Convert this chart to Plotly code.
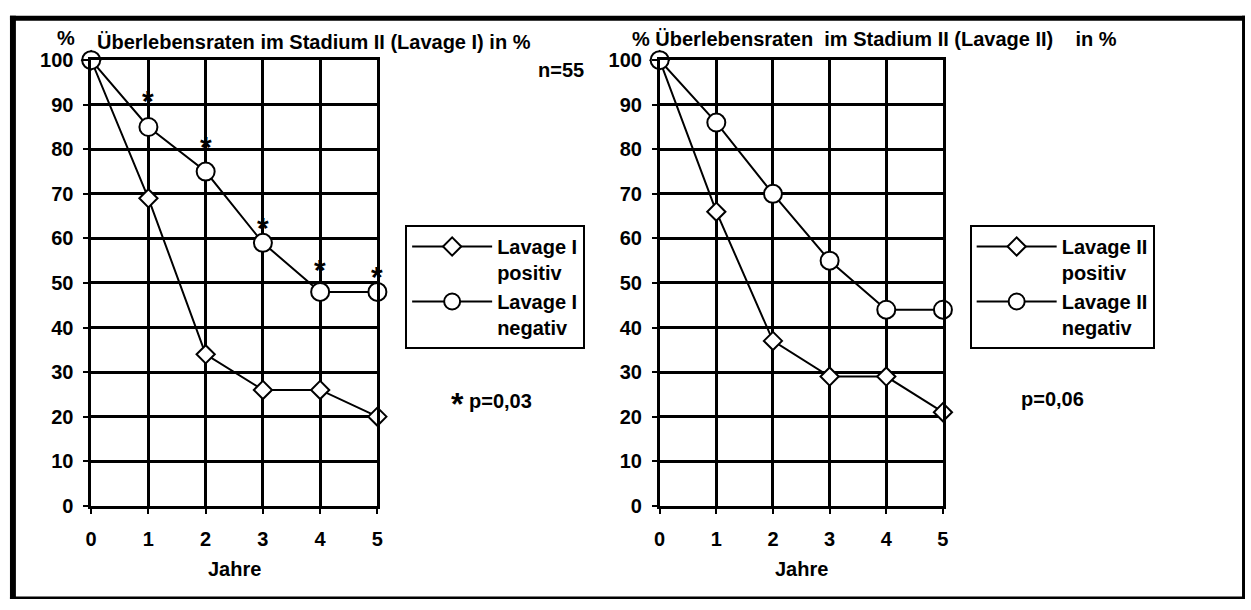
import plotly.graph_objects as go

# ---------------- data ----------------
years = [0, 1, 2, 3, 4, 5]
lavage1_positiv = [100, 69, 34, 26, 26, 20]
lavage1_negativ = [100, 85, 75, 59, 48, 48]
lavage2_positiv = [100, 66, 37, 29, 29, 21]
lavage2_negativ = [100, 86, 70, 55, 44, 44]
star_years = [1, 2, 3, 4, 5]
star_levels = [91.5, 81, 63, 53.5, 52]
y_ticks = [0, 10, 20, 30, 40, 50, 60, 70, 80, 90, 100]

NB = "\u00a0"
title_left = "Überlebensraten im Stadium II (Lavage I) in %"
title_right = "% Überlebensraten" + NB * 2 + "im Stadium II (Lavage II)" + NB * 4 + "in %"

# ---------------- layout helpers ----------------
W, H = 1251, 610
def px(x):
    return x / W
def py(y):
    return 1 - y / H

FONT = "Liberation Sans, Arial, sans-serif"
def font(size=20):
    return dict(family=FONT, size=size, color="black", weight="bold")

line_style = dict(color="black", width=2)
diamond = dict(symbol="diamond", size=14, color="white", line=dict(color="black", width=2))
circle = dict(symbol="circle", size=18, color="white", line=dict(color="black", width=2))

fig = go.Figure()
fig.add_trace(go.Scatter(x=years, y=lavage1_positiv, name="Lavage I<br>positiv",
                         mode="lines+markers", line=line_style, marker=diamond,
                         xaxis="x", yaxis="y", legend="legend", cliponaxis=False))
fig.add_trace(go.Scatter(x=years, y=lavage1_negativ, name="Lavage I<br>negativ",
                         mode="lines+markers", line=line_style, marker=circle,
                         xaxis="x", yaxis="y", legend="legend", cliponaxis=False))
fig.add_trace(go.Scatter(x=years, y=lavage2_positiv, name="Lavage II<br>positiv",
                         mode="lines+markers", line=line_style, marker=diamond,
                         xaxis="x2", yaxis="y2", legend="legend2", cliponaxis=False))
fig.add_trace(go.Scatter(x=years, y=lavage2_negativ, name="Lavage II<br>negativ",
                         mode="lines+markers", line=line_style, marker=circle,
                         xaxis="x2", yaxis="y2", legend="legend2", cliponaxis=False))

axis_common = dict(showgrid=True, gridcolor="black", gridwidth=2.5,
                   showline=True, linecolor="black", linewidth=2.5, mirror=True,
                   zeroline=False, ticks="outside", ticklen=5, tickwidth=2,
                   tickcolor="black", tickfont=font(20), fixedrange=True)
ydom = [py(513.3), py(51)]

fig.update_layout(
    width=W, height=H, margin=dict(l=0, r=0, t=0, b=0),
    paper_bgcolor="white", plot_bgcolor="white",
    xaxis=dict(domain=[px(86), px(375)], range=[0, 5], tickvals=years,
               ticklabelstandoff=8, anchor="y", **axis_common),
    yaxis=dict(domain=ydom, range=[0, 100], tickvals=y_ticks,
               ticklabelstandoff=6, anchor="x", **axis_common),
    xaxis2=dict(domain=[px(660), px(946)], range=[0, 5], tickvals=years,
                ticklabelstandoff=8, anchor="y2", **axis_common),
    yaxis2=dict(domain=ydom, range=[0, 100], tickvals=y_ticks,
                ticklabelstandoff=6, anchor="x2", **axis_common),
    legend=dict(x=px(403), y=py(222), xanchor="left", yanchor="top",
                bordercolor="black", borderwidth=2, bgcolor="white",
                font=font(20), itemwidth=80, valign="top"),
    legend2=dict(x=px(973), y=py(222), xanchor="left", yanchor="top",
                 bordercolor="black", borderwidth=2, bgcolor="white",
                 font=font(20), itemwidth=80, valign="top"),
    showlegend=True,
)

ann = []
# titles
ann.append(dict(text="%", x=px(72), y=py(28), xref="paper", yref="paper",
                xanchor="right", yanchor="middle", showarrow=False, font=font(20)))
ann.append(dict(text=title_left, x=px(90), y=py(32), xref="paper", yref="paper",
                xanchor="left", yanchor="middle", showarrow=False, font=font(20)))
ann.append(dict(text=title_right, x=px(630), y=py(29), xref="paper", yref="paper",
                xanchor="left", yanchor="middle", showarrow=False, font=font(20)))
ann.append(dict(text="n=55", x=px(560), y=py(61), xref="paper", yref="paper",
                xanchor="center", yanchor="middle", showarrow=False, font=font(20)))
# axis titles
ann.append(dict(text="Jahre", x=px(230.5), y=py(579), xref="paper", yref="paper",
                xanchor="center", yanchor="middle", showarrow=False, font=font(20)))
ann.append(dict(text="Jahre", x=px(803), y=py(579), xref="paper", yref="paper",
                xanchor="center", yanchor="middle", showarrow=False, font=font(20)))
# significance stars
for xv, yv in zip(star_years, star_levels):
    ann.append(dict(text="*", x=xv, y=yv, xref="x", yref="y", xanchor="center",
                    yanchor="middle", yshift=-2, showarrow=False, font=font(30)))
ann.append(dict(text="*", x=px(456), y=py(406), xref="paper", yref="paper",
                xanchor="center", yanchor="middle", yshift=-2, showarrow=False, font=font(32)))
ann.append(dict(text="p=0,03", x=px(465), y=py(405), xref="paper", yref="paper",
                xanchor="left", yanchor="middle", showarrow=False, font=font(20)))
ann.append(dict(text="p=0,06", x=px(1057), y=py(402), xref="paper", yref="paper",
                xanchor="center", yanchor="middle", showarrow=False, font=font(20)))
fig.update_layout(annotations=ann)

# outer frame
frame = [(4, 5, 10, 610), (4, 5, 1251, 10), (1248, 5, 1251, 610), (4, 607.5, 1251, 610)]
for x0, y0, x1, y1 in frame:
    fig.add_shape(type="rect", xref="paper", yref="paper", x0=px(x0), x1=px(x1),
                  y0=py(y0), y1=py(y1), fillcolor="black", line=dict(width=0), layer="above")

fig.write_html("out.html")
